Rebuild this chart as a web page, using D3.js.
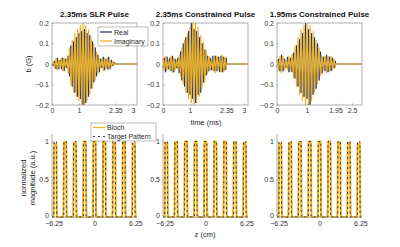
<!DOCTYPE html>
<html>
<head>
<meta charset="utf-8">
<script src="https://cdn.jsdelivr.net/npm/d3@7"></script>
<style>
body{margin:0;background:#fff;}
svg text{font-family:"Liberation Sans",Arial,sans-serif;fill:#262626;}
.tick text{font-size:7px;fill:#333;}
.tick line{stroke:#7f7f7f;stroke-width:0.6;}
.frame{fill:none;stroke:#8c8c8c;stroke-width:0.7;}
.graphtitle{font-size:8px;font-weight:bold;text-anchor:middle;fill:#111;}
.axislabel{font-size:7.5px;text-anchor:middle;}
.legendbox{fill:#fff;stroke:#8c8c8c;stroke-width:0.6;}
.legend{font-size:7px;}
.real{fill:none;stroke:#1f2d6b;stroke-width:0.9;}
.imag{fill:none;stroke:#edb120;stroke-width:1.15;}
.bloch{fill:none;stroke:#edb120;stroke-width:2;}
.target{fill:none;stroke:#111;stroke-width:0.8;stroke-dasharray:2,3;}
</style>
</head>
<body>
<svg id="chart" width="400" height="247"></svg>
<script>
// ---- data ----
const titles = ["2.35ms SLR Pulse", "2.35ms Constrained Pulse", "1.95ms Constrained Pulse"];
const timeTicks = [[0, 1, 2.35, 3], [0, 1, 2.35, 3], [0, 1, 1.95, 2.5]];
const timeMax = [3.15, 3.15, 2.83];
const sampleStep = 0.05; // ms between samples
const bTicks = [-0.2, -0.1, 0, 0.1, 0.2];

const real1 = [0, -.01, .015, -.025, .03, -.025, .02, -.025, .03, -.035, .025, -.02, .04, -.06, .09, -.11,
  .11, -.14, .13, -.16, .15, -.17, .16, -.2, .17, -.19, .15, -.16, .14, -.12, .11, -.09,
  .08, -.06, .045, -.04, .025, -.02, .035, -.03, .025, -.025, .035, -.025, .02, -.01, .01, 0];
const imag1 = [0, .01, -.02, .03, -.03, .02, -.015, .03, -.035, .03, -.02, .03, -.05, .08, -.10, .12,
  -.14, .15, -.16, .17, -.18, .19, -.2, .2, -.2, .19, -.18, .17, -.15, .13, -.12, .1,
  -.08, .06, -.05, .03, -.02, .03, -.035, .03, -.02, .03, -.03, .02, -.015, .01, -.005, 0];
const real2 = [-.02, .03, -.04, .035, -.025, .03, -.035, .04, -.04, .025, -.02, .03, -.045, .06, -.08, .1,
  -.11, .13, -.14, .16, -.15, .2, -.17, .17, -.19, .16, -.15, .13, -.14, .1, -.09, .07,
  -.055, .04, -.035, .03, -.03, .04, -.035, .04, -.035, .035, -.04, .04, -.04, .035, -.03, .03];
const imag2 = [.03, -.035, .04, -.03, .02, -.03, .04, -.045, .035, -.03, .02, -.025, .04, -.06, .08, -.10,
  .12, -.14, .15, -.17, .18, -.19, .2, -.2, .2, -.19, .18, -.16, .14, -.12, .11, -.09,
  .07, -.05, .04, -.03, .025, -.035, .04, -.045, .04, -.03, .035, -.04, .045, -.04, .035, -.03];
const real3 = [-.015, .025, -.035, .045, -.035, .025, -.02, .035, -.04, .03, -.04, .055, -.07, .09, -.11, .12,
  -.14, .15, -.16, .2, -.17, .17, -.2, .15, -.15, .13, -.12, .1, -.08, .06, -.045, .035,
  -.035, .045, -.04, .035, -.035, .03, -.02, .015];
const imag3 = [.02, -.03, .04, -.045, .04, -.03, .02, -.03, .04, -.035, .05, -.07, .09, -.11, .13, -.15,
  .17, -.18, .19, -.2, .2, -.2, .19, -.18, .16, -.14, .12, -.10, .08, -.06, .04, -.03,
  .04, -.045, .04, -.035, .04, -.03, .025, -.02];
const realSeries = [real1, real2, real3];
const imagSeries = [imag1, imag2, imag3];

const zTicks = [-6.25, 0, 6.25];
const zDomain = [-6.5, 6.5];
const magTicks = [0, 0.5, 1];
const sliceCenters = [-6, -4.5, -3, -1.5, 0, 1.5, 3, 4.5, 6];
const sliceThickness = 0.4; // cm
const blochPeaks = [
  [0.97, 0.99, 0.98, 1, 1, 1, 0.98, 0.99, 0.97],
  [0.98, 0.99, 1, 1, 1, 1, 1, 0.99, 0.98],
  [0.97, 0.98, 0.99, 1, 1, 1, 0.99, 0.98, 0.97]
];
// one Bloch slice: offset from slice centre (cm), fraction of the slice peak
const blochEdge = [[-0.3, 0], [-0.24, 0.1], [-0.21, 0.6], [-0.18, 0.95], [-0.14, 1],
  [0.14, 1], [0.18, 0.95], [0.21, 0.6], [0.24, 0.1], [0.3, 0]];

// ---- layout ----
const columns = [[52, 137], [163, 248], [277, 362]];
const topY = [105, 23];
const botY = [217, 134];

const svg = d3.select("#chart");

columns.forEach((col, p) => {
  // top: RF pulse
  let g = svg.append("g");
  let xScale = d3.scaleLinear().domain([0, timeMax[p]]).range(col);
  let yScale = d3.scaleLinear().domain([-0.2, 0.2]).range(topY);

  g.append("text").attr("class", "graphtitle").attr("x", (col[0] + col[1]) / 2).attr("y", 17).text(titles[p]);

  let xAxis = d3.axisBottom(xScale).tickValues(timeTicks[p]).tickFormat(d => d)
    .tickSizeInner(-1.5).tickSizeOuter(0).tickPadding(3);
  g.append("g").attr("transform", `translate(0,${topY[0]})`).call(xAxis).select(".domain").remove();
  let yAxis = d3.axisLeft(yScale).tickValues(bTicks).tickFormat(d => d === 0 ? "0" : d3.format(".1f")(d).replace("-", "\u2212"))
    .tickSizeInner(-1.5).tickSizeOuter(0).tickPadding(3);
  g.append("g").attr("transform", `translate(${col[0]},0)`).call(yAxis).select(".domain").remove();

  let line = d3.line().x(d => xScale(d[0])).y(d => yScale(d[1]));
  let realPts = realSeries[p].map((v, i) => [i * sampleStep, v]);
  let imagPts = imagSeries[p].map((v, i) => [i * sampleStep, v]);
  let tEnd = (imagPts.length - 1) * sampleStep;
  realPts.push([tEnd, 0], [timeMax[p], 0]);
  imagPts.push([tEnd, 0], [timeMax[p], 0]);
  g.append("path").attr("class", "real").attr("d", line(realPts));
  g.append("path").attr("class", "imag").attr("d", line(imagPts));

  g.append("rect").attr("class", "frame").attr("x", col[0]).attr("y", topY[1])
    .attr("width", col[1] - col[0]).attr("height", topY[0] - topY[1]);

  // bottom: slice profiles
  let b = svg.append("g");
  let zScale = d3.scaleLinear().domain(zDomain).range(col);
  let mScale = d3.scaleLinear().domain([0, 1.1]).range(botY);

  let zAxis = d3.axisBottom(zScale).tickValues(zTicks).tickFormat(d => d === 0 ? "0" : String(d).replace("-", "\u2212"))
    .tickSizeInner(-1.5).tickSizeOuter(0).tickPadding(4.5);
  b.append("g").attr("transform", `translate(0,${botY[0]})`).call(zAxis).select(".domain").remove();
  let mAxis = d3.axisLeft(mScale).tickValues(magTicks).tickFormat(d => d)
    .tickSizeInner(-1.5).tickSizeOuter(0).tickPadding(3);
  let mg = b.append("g").attr("transform", `translate(${col[0]},0)`).call(mAxis);
  mg.select(".domain").remove();
  mg.selectAll(".tick text").filter(d => d === 0).attr("dy", "0.1em");

  let zLine = d3.line().x(d => zScale(d[0])).y(d => mScale(d[1]));
  let blochPts = [[zDomain[0], 0]];
  sliceCenters.forEach((c, k) => {
    blochEdge.forEach(e => blochPts.push([c + e[0], e[1] * blochPeaks[p][k]]));
  });
  blochPts.push([zDomain[1], 0]);
  b.append("path").attr("class", "bloch").attr("d", zLine(blochPts));

  let targetPts = [[zDomain[0], 0]];
  sliceCenters.forEach(c => {
    let h = sliceThickness / 2;
    targetPts.push([c - h, 0], [c - h, 1], [c + h, 1], [c + h, 0]);
  });
  targetPts.push([zDomain[1], 0]);
  b.append("path").attr("class", "target").attr("d", zLine(targetPts));

  b.append("line").attr("class", "frame").attr("x1", col[0]).attr("x2", col[0]).attr("y1", botY[1]).attr("y2", botY[0]);
  b.append("line").attr("class", "frame").attr("x1", col[0]).attr("x2", col[1]).attr("y1", botY[0]).attr("y2", botY[0]);
});

// axis labels
svg.append("text").attr("class", "axislabel").attr("transform", "translate(31,64) rotate(-90)").text("b (G)");
svg.append("text").attr("class", "axislabel").attr("x", 206).attr("y", 125).text("time (ms)");
svg.append("text").attr("class", "axislabel").attr("x", 205).attr("y", 237).text("z (cm)");
svg.append("text").attr("class", "axislabel").attr("transform", "translate(26,178) rotate(-90)").text("normalized");
svg.append("text").attr("class", "axislabel").attr("transform", "translate(35,178) rotate(-90)").text("magnitude (a.u.)");

// legend, top
let lg = svg.append("g");
lg.append("rect").attr("class", "legendbox").attr("x", 98).attr("y", 27).attr("width", 50).attr("height", 19);
lg.append("line").attr("class", "real").attr("x1", 100).attr("x2", 112).attr("y1", 32).attr("y2", 32).style("stroke-width", 1.2);
lg.append("text").attr("class", "legend").attr("x", 114).attr("y", 34.5).text("Real");
lg.append("line").attr("class", "imag").attr("x1", 100).attr("x2", 112).attr("y1", 41).attr("y2", 41).style("stroke-width", 1.2);
lg.append("text").attr("class", "legend").attr("x", 114).attr("y", 43.5).text("Imaginary");

// legend, bottom
let lb = svg.append("g");
lb.append("rect").attr("class", "legendbox").attr("x", 91).attr("y", 123).attr("width", 65).attr("height", 18);
lb.append("line").attr("class", "bloch").attr("x1", 93).attr("x2", 105).attr("y1", 127.5).attr("y2", 127.5).style("stroke-width", 1.2);
lb.append("text").attr("class", "legend").attr("x", 107).attr("y", 130).text("Bloch");
lb.append("line").attr("class", "target").attr("x1", 93).attr("x2", 105).attr("y1", 136.5).attr("y2", 136.5);
lb.append("text").attr("class", "legend").attr("x", 107).attr("y", 139).text("Target Pattern");
</script>
</body>
</html>
